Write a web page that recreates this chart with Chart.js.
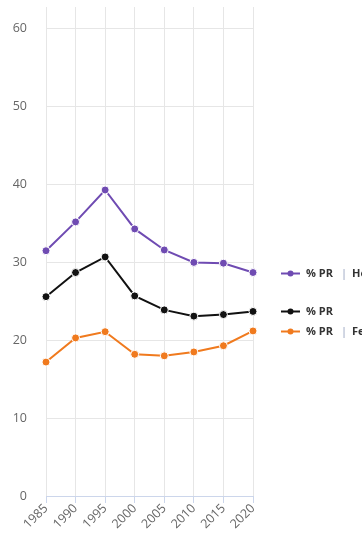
<!DOCTYPE html>
<html>
<head>
<meta charset="utf-8">
<script src="https://cdn.jsdelivr.net/npm/chart.js@4"></script>
<style>
  html, body { margin: 0; padding: 0; background: #fff; overflow: hidden; }
  #wrap { width: 362px; height: 542px; position: relative; }
</style>
</head>
<body>
<div id="wrap"><canvas id="myChart"></canvas></div>
<script>
const years = ['1985', '1990', '1995', '2000', '2005', '2010', '2015', '2020'];
const seriesNames = ['% PR | Hommes', '% PR', '% PR | Femmes'];
const prHommes = [31.5, 35.2, 39.3, 34.3, 31.6, 30.0, 29.9, 28.7];
const prTotal = [25.6, 28.7, 30.7, 25.7, 23.9, 23.1, 23.3, 23.7];
const prFemmes = [17.2, 20.3, 21.1, 18.2, 18.0, 18.5, 19.3, 21.2];
const yTicks = [0, 10, 20, 30, 40, 50, 60];
const colors = ['#6f4bb2', '#111111', '#f07a1e'];

// labels drawn at the height of each line's last point
const endLabels = {
  id: 'endLabels',
  afterDraw(chart) {
    const ctx = chart.ctx;
    const yScale = chart.scales.y;
    const x0 = chart.chartArea.right + 28;
    ctx.save();
    chart.data.datasets.forEach((ds) => {
      const y = Math.round(yScale.getPixelForValue(ds.data[ds.data.length - 1]));
      ctx.strokeStyle = ds.borderColor;
      ctx.lineWidth = 2;
      ctx.beginPath();
      ctx.moveTo(x0, y + 0.5);
      ctx.lineTo(x0 + 19, y + 0.5);
      ctx.stroke();
      ctx.fillStyle = ds.borderColor;
      ctx.beginPath();
      ctx.arc(x0 + 9.5, y + 0.5, 3, 0, Math.PI * 2);
      ctx.fill();
      ctx.font = 'bold 11px "Open Sans", sans-serif';
      ctx.textBaseline = 'middle';
      let x = x0 + 25;
      const parts = ds.label.split('|');
      parts.forEach((p, i) => {
        if (i > 0) {
          x += 8;
          ctx.fillStyle = '#b8c0d4';
          ctx.fillText('|', x, y + 1);
          x += ctx.measureText('|').width + 5;
        }
        ctx.fillStyle = '#333333';
        const t = p.trim();
        ctx.fillText(t, x, y + 1);
        x += ctx.measureText(t).width;
      });
    });
    ctx.restore();
  }
};

const makeSet = (label, data, color) => ({
  label: label,
  data: data,
  borderColor: color,
  backgroundColor: color,
  borderWidth: 2,
  pointRadius: 4,
  pointBorderColor: '#ffffff',
  pointBorderWidth: 1,
  pointHoverRadius: 4,
  tension: 0
});

new Chart(document.getElementById('myChart'), {
  type: 'line',
  data: {
    labels: years,
    datasets: [
      makeSet(seriesNames[0], prHommes, colors[0]),
      makeSet(seriesNames[1], prTotal, colors[1]),
      makeSet(seriesNames[2], prFemmes, colors[2])
    ]
  },
  options: {
    responsive: true,
    maintainAspectRatio: false,
    animation: false,
    layout: { padding: { top: 7, right: 109, left: 0, bottom: 0 } },
    scales: {
      x: {
        offset: false,
        grid: { color: '#e6e6e6', tickColor: '#ccd6eb', tickLength: 7, drawOnChartArea: true },
        border: { color: '#ccd6eb', width: 1 },
        ticks: {
          color: '#666666',
          font: { family: '"Open Sans", sans-serif', size: 12.5 },
          maxRotation: 45,
          minRotation: 45,
          padding: -2,
          autoSkip: false
        },
        afterFit(scale) {
          scale.height = 46;
          scale.paddingLeft = 0;
          scale.paddingRight = 0;
        }
      },
      y: {
        min: 0,
        max: 62.8,
        afterBuildTicks(axis) {
          axis.ticks = yTicks.map((v) => ({ value: v }));
        },
        grid: { color: '#e6e6e6', drawTicks: false },
        border: { display: false },
        ticks: {
          color: '#666666',
          font: { family: '"Open Sans", sans-serif', size: 12.5 },
          padding: 19
        },
        afterFit(scale) {
          scale.width = 46;
          scale.paddingTop = 0;
          scale.paddingBottom = 0;
        }
      }
    },
    plugins: {
      legend: { display: false },
      tooltip: { enabled: false }
    }
  },
  plugins: [endLabels]
});
</script>
</body>
</html>
